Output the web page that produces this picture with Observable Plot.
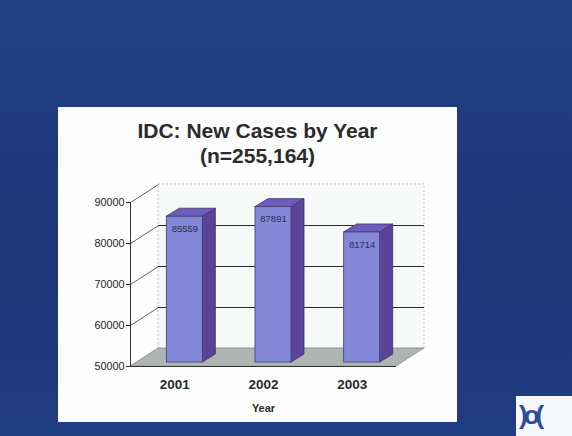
<!DOCTYPE html>
<html>
<head>
<meta charset="utf-8">
<script src="https://cdn.jsdelivr.net/npm/d3@7"></script>
<script src="https://cdn.jsdelivr.net/npm/@observablehq/plot@0.6"></script>
<style>
  html, body { margin: 0; padding: 0; }
  body { width: 572px; height: 436px; overflow: hidden; background: #1f3b80; font-family: "Liberation Sans", Arial, sans-serif; }
  #page { position: relative; width: 572px; height: 436px; background: linear-gradient(180deg, #213e84 0%, #1d377a 60%, #203c82 100%); }
  #panel { position: absolute; left: 58px; top: 107px; width: 399px; height: 315px; background: #fdfdfd; }
  .title { position: absolute; left: 0; width: 399px; text-align: center; font-weight: bold; font-size: 21px; color: #2b2b2b; line-height: 24px; }
  #chart { position: absolute; left: 0; top: 63px; }
  #logo { position: absolute; left: 516px; top: 396px; width: 56px; height: 40px; background: #f6f7fb; }
  #logo span { position: absolute; left: 3px; top: 4px; font-weight: bold; font-size: 26px; color: #2a4c9a; letter-spacing: -4px; }
</style>
</head>
<body>
<div id="page">
  <div id="panel">
    <div class="title" style="top:12px">IDC: New Cases by Year</div>
    <div class="title" style="top:37px">(n=255,164)</div>
    <div id="chart"></div>
  </div>
  <div id="logo"><span>)o(</span></div>
</div>
<script>
// ---- data ----
const years = ["2001", "2002", "2003"];
const cases = [85559, 87891, 81714];
const yTicks = [50000, 60000, 70000, 80000, 90000];
const xLabel = "Year";

// ---- layout ----
const W = 399, H = 250, mL = 72, mR = 61, mT = 32, mB = 54;
const xDom = [0, years.length];
const yDom = [yTicks[0], yTicks[yTicks.length - 1]];
const kx = (W - mL - mR) / (xDom[1] - xDom[0]);   // px per x unit
const ky = (H - mT - mB) / (yDom[1] - yDom[0]);   // px per y unit
const px = p => p / kx, py = p => p / ky;
const wallDX = px(28), wallDY = py(18);
const barOffX = px(10), barOffY = py(4);
const barDX = px(13), barDY = py(8);
const barHalf = px(18);

const bars = years.map((year, i) => ({year, value: cases[i], c: i + 0.5}));
const base = yDom[0] + barOffY;

const floor = [
  {y: yDom[0], x1: xDom[0], x2: xDom[1]},
  {y: yDom[0] + wallDY, x1: xDom[0] + wallDX, x2: xDom[1] + wallDX}
];
const wall = [{x1: xDom[0] + wallDX, x2: xDom[1] + wallDX, y1: yDom[0] + wallDY, y2: yDom[1] + wallDY}];
const innerTicks = yTicks.slice(1, -1);
const diagTicks = yTicks.slice(1);

const sidePts = bars.flatMap(d => {
  const xr = d.c + barOffX + barHalf;
  return [
    {year: d.year, x: xr, y1: base, y2: d.value + barOffY},
    {year: d.year, x: xr + barDX, y1: base + barDY, y2: d.value + barOffY + barDY}
  ];
});
const topPts = bars.flatMap(d => {
  const xl = d.c + barOffX - barHalf, xr = d.c + barOffX + barHalf;
  const t = d.value + barOffY;
  return [
    {year: d.year, y: t, x1: xl, x2: xr},
    {year: d.year, y: t + barDY, x1: xl + barDX, x2: xr + barDX}
  ];
});

const chart = Plot.plot({
  width: W, height: H,
  marginLeft: mL, marginRight: mR, marginTop: mT, marginBottom: mB,
  style: {background: "transparent", fontFamily: "'Liberation Sans', Arial, sans-serif", fontSize: "10.8px", color: "#222", overflow: "visible"},
  x: {domain: xDom, axis: null},
  y: {domain: yDom, ticks: yTicks, tickFormat: d3.format("d"), tickSize: 4, tickPadding: 2, label: null},
  marks: [
    // back wall
    Plot.rect(wall, {x1: "x1", x2: "x2", y1: "y1", y2: "y2", fill: "#f7f8f8", stroke: "#b8b8b8", strokeDasharray: "2,2", strokeWidth: 0.8}),
    // floor
    Plot.areaX(floor, {y: "y", x1: "x1", x2: "x2", fill: "#adb4b1", stroke: "#8a8f8e", strokeWidth: 0.8}),
    // wall gridlines
    Plot.ruleY(innerTicks, {y: d => d + wallDY, x1: xDom[0] + wallDX, x2: xDom[1] + wallDX, stroke: "#2a2a2a", strokeWidth: 1}),
    // left wall diagonals
    Plot.link(diagTicks, {x1: xDom[0], y1: d => d, x2: xDom[0] + wallDX, y2: d => d + wallDY, stroke: "#555", strokeWidth: 0.9}),
    // front floor edge
    Plot.ruleY([yDom[0]], {x1: xDom[0], x2: xDom[1], stroke: "#333", strokeWidth: 1}),
    // y axis line
    Plot.ruleX([xDom[0]], {y1: yDom[0], y2: yDom[1], stroke: "#333", strokeWidth: 1}),
    // bars: side, top, front
    Plot.areaY(sidePts, {x: "x", y1: "y1", y2: "y2", z: "year", fill: "#5a4399", stroke: "#3a2d6a", strokeWidth: 0.8}),
    Plot.areaX(topPts, {y: "y", x1: "x1", x2: "x2", z: "year", fill: "#6e5cbc", stroke: "#3a2d6a", strokeWidth: 0.8}),
    Plot.rect(bars, {x1: d => d.c + barOffX - barHalf, x2: d => d.c + barOffX + barHalf, y1: base, y2: d => d.value + barOffY, fill: "#8388d8", stroke: "#3b3d70", strokeWidth: 0.8}),
    // value labels
    Plot.text(bars, {x: d => d.c + barOffX, y: d => d.value + barOffY, dy: 12, text: d => String(d.value), fontSize: 9.5, fill: "#2d2d5c"}),
    // category labels
    Plot.text(bars, {x: "c", y: yDom[0], dy: 18, text: "year", fontSize: 13.5, fontWeight: "bold", fill: "#2a2a2a"}),
    // x axis title
    Plot.text([xLabel], {x: (xDom[0] + xDom[1]) / 2, y: yDom[0], dy: 42, text: d => d, fontSize: 11, fontWeight: "bold", fill: "#2a2a2a"})
  ]
});
document.getElementById("chart").appendChild(chart);
</script>
</body>
</html>
